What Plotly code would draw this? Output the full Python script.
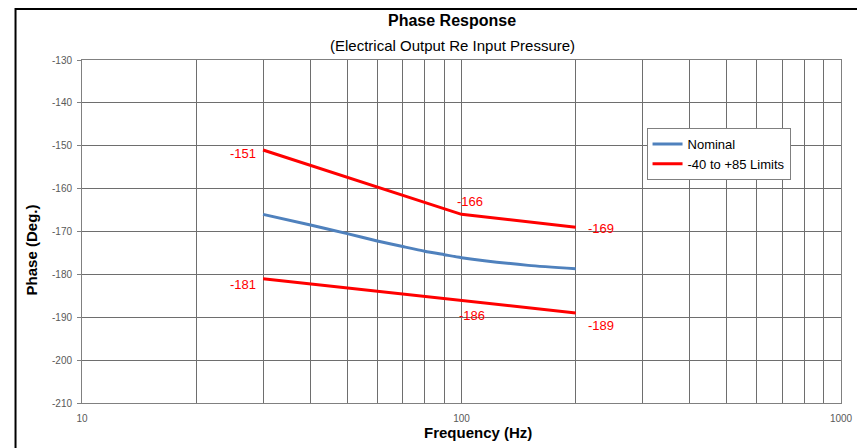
import plotly.graph_objects as go
import math

# Data
freq_nominal = [30, 40, 50, 60, 70, 80, 90, 100, 150, 200]
phase_nominal = [-166.0, -168.5, -170.5, -172.2, -173.5, -174.6, -175.4, -176.1, -177.9, -178.7]

freq_limits = [30, 100, 200]
phase_upper = [-151, -166, -169]
phase_lower = [-181, -186, -189]

x_tick_vals = [10, 20, 30, 40, 50, 60, 70, 80, 90, 100, 200, 300, 400, 500, 600, 700, 800, 900, 1000]
x_tick_text = ["10"] + [""] * 8 + ["100"] + [""] * 8 + ["1000"]
y_tick_vals = [-210, -200, -190, -180, -170, -160, -150, -140, -130]
y_tick_text = ["-210", "-200", "-190", "-180", "-170", "-160", "-150", "-140", "-130"]

BLUE = "#4F81BD"
RED = "#FF0000"
FONT = "Liberation Sans, Arial, sans-serif"

# plot area in page pixels: x 82..847, y 60..403 (figure origin at page (8, 8))
PX0, PX1, PY0, PY1 = 82, 847, 60, 403
PW, PH = PX1 - PX0, PY1 - PY0
FW, FH = 857, 440


def px(xp):
    return (xp - PX0) / PW


def py(yp):
    return (PY1 - yp) / PH


fig = go.Figure()
fig.add_trace(go.Scatter(x=freq_nominal, y=phase_nominal, mode="lines", name="Nominal",
                         line=dict(color=BLUE, width=3, shape="spline", smoothing=0.6)))
fig.add_trace(go.Scatter(x=freq_limits, y=phase_upper, mode="lines", name="-40 to +85 Limits",
                         line=dict(color=RED, width=3)))
fig.add_trace(go.Scatter(x=freq_limits, y=phase_lower, mode="lines", name="-40 to +85 Limits",
                         line=dict(color=RED, width=3), showlegend=False))

# value labels
label_specs = [
    (freq_limits[0], phase_upper[0], "right", -5, -3),
    (freq_limits[1], phase_upper[1], "left", -7, 13),
    (freq_limits[2], phase_upper[2], "left", 10, -1),
    (freq_limits[0], phase_lower[0], "right", -5, -6),
    (freq_limits[1], phase_lower[1], "left", -5, -15),
    (freq_limits[2], phase_lower[2], "left", 10, -13),
]
annotations = []
for fx, fy, anc, xs, ys in label_specs:
    annotations.append(dict(x=math.log10(fx), y=fy, xref="x", yref="y", text=str(fy),
                            showarrow=False, xanchor=anc, yanchor="middle",
                            xshift=xs, yshift=ys,
                            font=dict(family=FONT, size=13, color=RED)))

annotations += [
    dict(x=px(455), y=py(20), xref="paper", yref="paper", text="<b>Phase Response</b>",
         showarrow=False, xanchor="center", yanchor="middle",
         font=dict(family=FONT, size=16, color="#000000")),
    dict(x=px(455), y=py(45), xref="paper", yref="paper", text="(Electrical Output Re Input Pressure)",
         showarrow=False, xanchor="center", yanchor="middle",
         font=dict(family=FONT, size=15, color="#000000")),
    dict(x=px(31), y=py(250), xref="paper", yref="paper", text="<b>Phase (Deg.)</b>",
         showarrow=False, xanchor="center", yanchor="middle", textangle=-90,
         font=dict(family=FONT, size=15, color="#000000")),
    dict(x=px(481), y=py(432), xref="paper", yref="paper",
         text="<b>Frequency (Hz)</b>",
         showarrow=False, xanchor="center", yanchor="middle",
         font=dict(family=FONT, size=15, color="#000000")),
]

fig.update_layout(
    width=FW, height=FH,
    margin=dict(l=PX0 - 8, r=FW - (PX1 - 8), t=PY0 - 8, b=FH - (PY1 - 8)),
    paper_bgcolor="white", plot_bgcolor="white",
    font=dict(family=FONT, color="#595959"),
    showlegend=True,
    legend=dict(x=px(651), y=py(128), xanchor="left", yanchor="top",
                bgcolor="white", bordercolor="#808080", borderwidth=1,
                font=dict(family=FONT, size=13, color="#000000"),
                tracegroupgap=0),
    annotations=annotations,
    shapes=[dict(type="rect", xref="paper", yref="paper",
                 x0=px(15), x1=px(880), y0=py(470), y1=py(9),
                 line=dict(color="#000000", width=2), fillcolor="rgba(0,0,0,0)",
                 layer="below")],
)

fig.update_xaxes(type="log", range=[1, 3], tickvals=x_tick_vals, ticktext=x_tick_text,
                 showgrid=True, gridcolor="#6e6e6e", gridwidth=1,
                 showline=True, linecolor="#808080", linewidth=1, mirror=True,
                 ticks="", zeroline=False, ticklabeloverflow="allow", ticklabelstandoff=6,
                 tickfont=dict(family=FONT, size=10, color="#595959"))
fig.update_yaxes(range=[-210, -130], tickvals=y_tick_vals, ticktext=y_tick_text,
                 showgrid=True, gridcolor="#6e6e6e", gridwidth=1,
                 showline=True, linecolor="#808080", linewidth=1, mirror=True,
                 ticks="outside", ticklen=4, tickcolor="#808080",
                 zeroline=False, ticklabelstandoff=3,
                 tickfont=dict(family=FONT, size=10, color="#595959"))

fig.write_html("out.html")
